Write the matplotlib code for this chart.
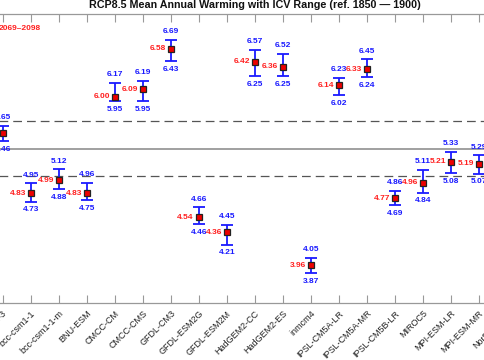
import matplotlib
matplotlib.use("Agg")
import matplotlib.pyplot as plt
import numpy as np

models = ["ACCESS1-3", "bcc-csm1-1", "bcc-csm1-1-m", "BNU-ESM", "CMCC-CM",
          "CMCC-CMS", "GFDL-CM3", "GFDL-ESM2G", "GFDL-ESM2M", "HadGEM2-CC",
          "HadGEM2-ES", "inmcm4", "IPSL-CM5A-LR", "IPSL-CM5A-MR",
          "IPSL-CM5B-LR", "MIROC5", "MPI-ESM-LR", "MPI-ESM-MR", "NorESM1-M"]
means = [5.56, 4.83, 4.99, 4.83, 6.00, 6.09, 6.58, 4.54, 4.36, 6.42,
         6.36, 3.96, 6.14, 6.33, 4.77, 4.96, 5.21, 5.19]
lows = [5.46, 4.73, 4.88, 4.75, 5.95, 5.95, 6.43, 4.46, 4.21, 6.25,
        6.25, 3.87, 6.02, 6.24, 4.69, 4.84, 5.08, 5.07]
highs = [5.65, 4.95, 5.12, 4.96, 6.17, 6.19, 6.69, 4.66, 4.45, 6.57,
         6.52, 4.05, 6.23, 6.45, 4.86, 5.11, 5.33, 5.29]
ens_mean = 5.37
ens_std = 0.33
period = "2069\u20132098"
title = "RCP8.5 Mean Annual Warming with ICV Range (ref. 1850 \u2014 1900)"

plt.rcParams["font.family"] = ["Liberation Sans", "DejaVu Sans"]

fig = plt.figure(figsize=(4.85, 3.6), dpi=100)
# axes run past the figure edges, the picture is a crop of a wider plot
ax = fig.add_axes([-30.9 / 485, 1 - 303.3 / 360, 571.2 / 485, 289.3 / 360])

x = np.arange(len(means))
means = np.array(means)
lows = np.array(lows)
highs = np.array(highs)

ax.axhline(ens_mean, color="#a0a0a0", lw=1.4, zorder=1)
for v in (ens_mean - ens_std, ens_mean + ens_std):
    ax.axhline(v, color="#555555", lw=0.9, ls=(0, (7, 4)), zorder=1)

ax.errorbar(x, means, yerr=[means - lows, highs - means], fmt="none",
            ecolor="#1a1aff", elinewidth=1.3, capsize=4.3, capthick=1.3, zorder=2)
ax.plot(x, means, ls="none", marker="s", ms=5, mfc="#ee0000", mec="#222222",
        mew=0.9, zorder=3)

lab = dict(textcoords="offset points", va="center", fontsize=6, fontweight="bold")
for xi, m, lo, hi in zip(x, means, lows, highs):
    ax.annotate(f"{hi:.2f}", (xi, hi), xytext=(0, 6), ha="center",
                color="#1a1aff", **lab)
    ax.annotate(f"{lo:.2f}", (xi, lo), xytext=(0, -6), ha="center",
                color="#1a1aff", **lab)
    ax.annotate(f"{m:.2f}", (xi, m), xytext=(-3.5, 0), ha="right",
                color="#ff2020", **lab)

ax.set_xlim(-1.2, 19.2)
ax.set_ylim(3.5, 7.0)
ax.set_xticks(np.arange(len(models)))
ax.set_xticklabels(models, rotation=45, ha="right", rotation_mode="anchor",
                   fontsize=6.5, color="#222222")
ax.tick_params(axis="x", direction="in", length=6, color="#999999",
               top=True, bottom=True, pad=4)
ax.tick_params(axis="y", left=False, labelleft=False)
for s in ax.spines.values():
    s.set_color("#999999")
    s.set_linewidth(0.9)

fig.text(41 / 485, 1 - 29 / 360, period, ha="right", va="center",
         fontsize=6, fontweight="bold", color="#ff2020")
fig.text(255 / 485, 1 - 4.5 / 360, title, ha="center", va="center",
         fontsize=7.75, fontweight="bold", color="#111111")

fig.savefig("out.png", dpi=100)
